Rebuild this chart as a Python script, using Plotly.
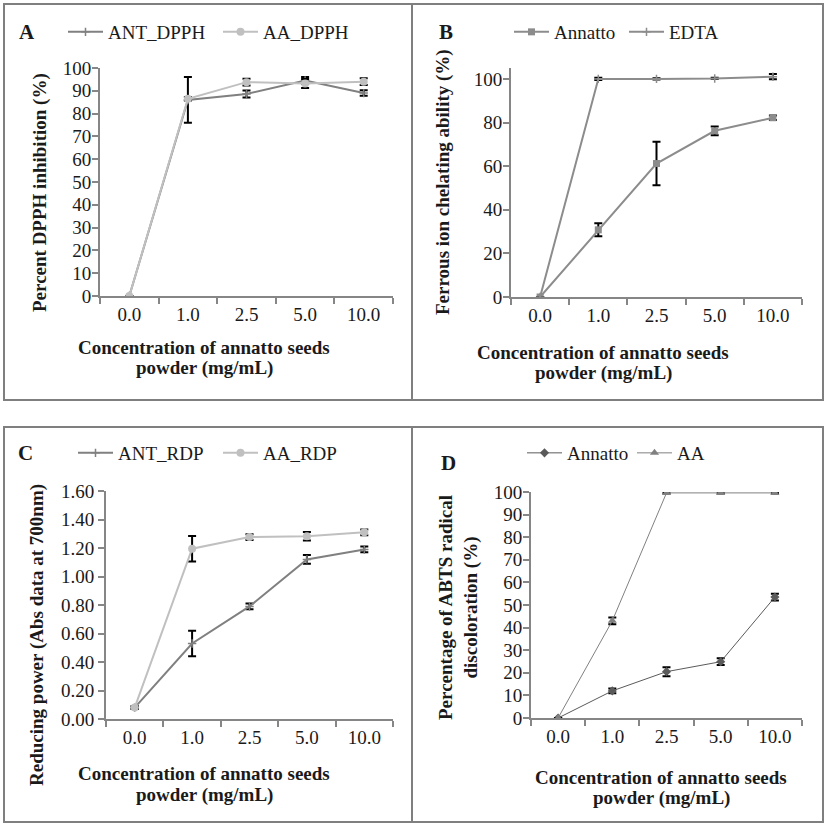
import plotly.graph_objects as go

conc = ["0.0", "1.0", "2.5", "5.0", "10.0"]

# Panel A – DPPH
ant_dpph = [0, 86, 88.6, 94.5, 89]
ant_dpph_err = [0, 10, 1.5, 1.5, 1.2]
aa_dpph = [0, 86.5, 93.8, 93.2, 94]
aa_dpph_err = [0, 0.8, 1.5, 2, 1.5]

# Panel B – ferrous ion chelating
annatto_fic = [0, 30.8, 61.2, 76.2, 82.2]
annatto_fic_err = [0, 3, 10, 2, 1]
edta_fic = [0, 100, 100, 100.2, 101]
edta_fic_err = [0, 0.5, 0.3, 0.3, 1.2]

# Panel C – reducing power
ant_rdp = [0.08, 0.53, 0.79, 1.12, 1.19]
ant_rdp_err = [0.01, 0.09, 0.02, 0.03, 0.02]
aa_rdp = [0.08, 1.195, 1.277, 1.282, 1.31]
aa_rdp_err = [0.01, 0.09, 0.02, 0.03, 0.02]

# Panel D – ABTS
annatto_abts = [0, 12, 20.5, 24.9, 53.5]
annatto_abts_err = [0, 1, 2, 1.5, 1.5]
aa_abts = [0, 43, 99.6, 99.6, 99.6]
aa_abts_err = [0, 1.5, 0.3, 0.3, 0.3]

W, H = 827, 828
FONT = "Liberation Serif"
TXT = "#1a1a1a"
AXC = "#868686"


def px(x):
    return x / W


def py(y):
    return 1 - y / H


def err(v):
    return dict(type="data", array=v, visible=True, color="#000000", thickness=2, width=4)


fig = go.Figure()


def add(y, e, name, color, symbol, msize, lw, xa, ya, legend, mline=0):
    fig.add_trace(go.Scatter(
        x=conc, y=y, name=name, mode="lines+markers",
        line=dict(color=color, width=lw),
        marker=dict(symbol=symbol, size=msize, color=color,
                    line=dict(color=color, width=mline)),
        error_y=err(e), xaxis=xa, yaxis=ya, legend=legend,
    ))


add(ant_dpph, ant_dpph_err, "ANT_DPPH", "#808080", "cross-thin", 6, 2, "x", "y", "legend", 1.5)
add(aa_dpph, aa_dpph_err, "AA_DPPH", "#c0c0c0", "circle", 8, 2, "x", "y", "legend")
add(annatto_fic, annatto_fic_err, "Annatto", "#8c8c8c", "square", 7, 2, "x2", "y2", "legend2")
add(edta_fic, edta_fic_err, "EDTA", "#8c8c8c", "cross-thin", 6, 2, "x2", "y2", "legend2", 1.5)
add(ant_rdp, ant_rdp_err, "ANT_RDP", "#808080", "cross-thin", 6, 2, "x3", "y3", "legend3", 1.5)
add(aa_rdp, aa_rdp_err, "AA_RDP", "#c0c0c0", "circle", 8, 2, "x3", "y3", "legend3")
add(annatto_abts, annatto_abts_err, "Annatto", "#5a5a5a", "diamond", 7, 1, "x4", "y4", "legend4")
add(aa_abts, aa_abts_err, "AA", "#808080", "triangle-up", 8, 1, "x4", "y4", "legend4")

panels = {
    "": dict(x=(100, 393), y=(68, 296), rng=[0, 100], dt=10, fmt="d", so=-3),
    "2": dict(x=(511, 802), y=(68, 297), rng=[0, 105], dt=20, fmt="d", so=-3),
    "3": dict(x=(106, 393), y=(491, 719), rng=[0, 1.6], dt=0.2, fmt=".2f", so=0),
    "4": dict(x=(531, 802), y=(492, 718), rng=[0, 100], dt=10, fmt="d", so=-3),
}

tickfont = dict(family=FONT, size=19, color=TXT)
for k, p in panels.items():
    fig.layout["xaxis" + k] = dict(
        domain=[px(p["x"][0]), px(p["x"][1])], anchor="y" + k,
        type="category", categoryorder="array", categoryarray=conc,
        range=[-0.5, 4.5], tickson="boundaries", ticks="outside", ticklen=6,
        tickwidth=2, tickcolor=AXC, showline=True, linecolor=AXC, linewidth=2,
        showgrid=False, zeroline=False, tickfont=tickfont, fixedrange=True,
    )
    fig.layout["yaxis" + k] = dict(
        domain=[py(p["y"][1]), py(p["y"][0])], anchor="x" + k,
        range=p["rng"], dtick=p["dt"], tick0=0, tickformat=p["fmt"],
        ticks="outside", ticklen=6, tickwidth=2, tickcolor=AXC,
        showline=True, linecolor=AXC, linewidth=2, showgrid=False,
        zeroline=False, tickfont=tickfont, fixedrange=True,
        ticklabelstandoff=p["so"],
    )

legfont = dict(family=FONT, size=19, color=TXT)


def leg(x, y, ew):
    return dict(orientation="h", x=px(x), y=py(y), xanchor="left", yanchor="middle",
                font=legfont, bgcolor="rgba(0,0,0,0)", borderwidth=0,
                entrywidth=ew, entrywidthmode="pixels", tracegroupgap=0,
                itemwidth=35)


fig.update_layout(
    legend=leg(63, 32, 105),
    legend2=leg(509, 32, 65),
    legend3=leg(73, 453, 95),
    legend4=leg(522, 453, 60),
)

# panel borders
for (x0, y0, x1, y1) in [(4, 4, 412, 400), (412, 4, 823, 400), (4, 427, 412, 822), (412, 427, 823, 822)]:
    fig.add_shape(type="rect", xref="paper", yref="paper",
                  x0=px(x0), x1=px(x1), y0=py(y1), y1=py(y0),
                  line=dict(color="#7f7f7f", width=2))

ann = []
titlefont = dict(family=FONT, size=19, color=TXT)
letters = [("A", 27, 32), ("B", 446, 32), ("C", 25, 453), ("D", 449, 463)]
for t, x, y in letters:
    ann.append(dict(text="<b>%s</b>" % t, x=px(x), y=py(y), xref="paper", yref="paper",
                    xanchor="center", yanchor="middle",
                    showarrow=False, font=dict(family=FONT, size=21, color=TXT)))

xt1 = "<b>Concentration of annatto seeds</b>"
xt2 = "<b>powder (mg/mL)</b>"
for x, y1, y2 in [(204, 347, 368), (603, 352, 373), (204, 773, 795), (661, 777, 798)]:
    for t, y in ((xt1, y1), (xt2, y2)):
        ann.append(dict(text=t, x=px(x), y=py(y), xref="paper", yref="paper",
                        xanchor="center", yanchor="middle",
                        showarrow=False, font=titlefont))

ytitles = [
    ("<b>Percent DPPH inhibition (%)</b>", 40, 193),
    ("<b>Ferrous ion chelating ability (%)</b>", 443, 182),
    ("<b>Reducing power (Abs data at 700nm)</b>", 37, 635),
    ("<b>Percentage of ABTS radical<br>discoloration (%)</b>", 458, 607),
]
for t, x, y in ytitles:
    ann.append(dict(text=t, x=px(x), y=py(y), xref="paper", yref="paper",
                    xanchor="center", yanchor="middle",
                    showarrow=False, textangle=-90, font=titlefont))

fig.update_layout(
    width=W, height=H, margin=dict(l=0, r=0, t=0, b=0, pad=0, autoexpand=False),
    paper_bgcolor="white", plot_bgcolor="white",
    annotations=ann, showlegend=True,
)

fig.write_html("out.html", config={"displayModeBar": False},
               post_script="document.body.style.margin='0px';")
